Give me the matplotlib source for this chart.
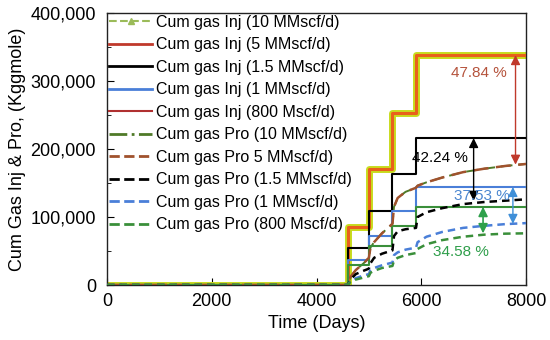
import matplotlib
matplotlib.use("Agg")
import matplotlib.pyplot as plt
from matplotlib.ticker import MultipleLocator, FuncFormatter
from matplotlib.lines import Line2D

plt.rcParams['font.family'] = ['Liberation Sans', 'DejaVu Sans']

# ---- data (days, Kggmole) ----
inj_t = [0, 4600, 5000, 5450, 5900, 8000]
inj_10mm = [0, 85000, 170000, 253000, 338000, 338000]
inj_5mm = [0, 85000, 170000, 253000, 338000, 338000]
inj_1p5mm = [0, 54000, 109000, 163000, 216000, 216000]
inj_1mm = [0, 37000, 72000, 109000, 144000, 144000]
inj_800 = [0, 29000, 58000, 87000, 115000, 115000]

pro_t = [0, 4600, 4650, 4750, 4900, 5000, 5030, 5100, 5250, 5450, 5480, 5550,
         5700, 5900, 5930, 6100, 6400, 6800, 7200, 7600, 8000]
pro_10mm = [0, 0, 12000, 22000, 32000, 40000, 55000, 63000, 76000, 90000, 115000, 128000,
            137000, 143000, 146000, 151000, 158000, 166000, 171000, 175000, 178000]
pro_5mm = [0, 0, 12000, 22000, 32000, 40000, 55000, 63000, 76000, 90000, 115000, 128000,
           137000, 143000, 146000, 151000, 158000, 166000, 171000, 175000, 178000]
pro_1p5mm = [0, 0, 8000, 16000, 21000, 24000, 32000, 40000, 46000, 51000, 72000, 79000,
             82000, 84000, 100000, 107000, 113000, 119000, 122000, 124000, 126000]
pro_1mm = [0, 0, 6000, 10000, 14000, 16000, 22000, 25000, 29000, 33000, 44000, 48000,
           52000, 55000, 63000, 71000, 78000, 84000, 87000, 89500, 91000]
pro_800 = [0, 0, 5000, 8000, 11000, 13000, 18000, 21000, 25000, 28000, 36000, 40000,
           44000, 47000, 53000, 60000, 66000, 71000, 74000, 75500, 76000]

labels = ['Cum gas Inj (10 MMscf/d)', 'Cum gas Inj (5 MMscf/d)', 'Cum gas Inj (1.5 MMscf/d)',
          'Cum gas Inj (1 MMscf/d)', 'Cum gas Inj (800 Mscf/d)', 'Cum gas Pro (10 MMscf/d)',
          'Cum gas Pro 5 MMscf/d)', 'Cum gas Pro (1.5 MMscf/d)', 'Cum gas Pro (1 MMscf/d)',
          'Cum gas Pro (800 Mscf/d)']

# difference markers
diff_x = [7800, 7000, 7750, 7180]
diff_top = [338000, 216000, 144000, 115000]
diff_bot = [177000, 124000, 90000, 76000]
diff_txt = ['47.84 %', '42.24 %', '37.53 %', '34.58 %']
diff_tx = [7100, 6350, 7150, 6750]
diff_ty = [312000, 187000, 131000, 48000]

fig = plt.figure(figsize=(5.5, 3.4), dpi=100)
ax = fig.add_axes([107/550, 1-285/340, (526-107)/550, (285-13)/340])

c_yel = '#c8dc1e'
c_org = '#e8601c'
c_blue = '#4a7fd8'
c_grn = '#3a8f3a'
c_brn = '#a0522d'
c_dgrn = '#4f7a28'

ax.plot(inj_t, inj_10mm, drawstyle='steps-post', color=c_yel, lw=5, zorder=2)
ax.plot(inj_t, inj_5mm, drawstyle='steps-post', color=c_org, lw=2.2, zorder=3)
ax.plot(inj_t, inj_1p5mm, drawstyle='steps-post', color='black', lw=1.5, zorder=3)
ax.plot(inj_t, inj_1mm, drawstyle='steps-post', color=c_blue, lw=1.5, zorder=3)
ax.plot(inj_t, inj_800, drawstyle='steps-post', color=c_grn, lw=1.5, zorder=3)
ax.plot(pro_t, pro_10mm, color=c_dgrn, lw=1.4, ls=(0, (6, 3)), zorder=2.5)
ax.plot(pro_t, pro_5mm, color=c_brn, lw=1.8, ls=(0, (6, 3)), zorder=3)
ax.plot(pro_t, pro_1p5mm, color='black', lw=1.8, ls=(0, (3, 2)), zorder=3)
ax.plot(pro_t, pro_1mm, color=c_blue, lw=1.8, ls=(0, (3, 2)), zorder=3)
ax.plot(pro_t, pro_800, color=c_grn, lw=1.8, ls=(0, (3, 2)), zorder=3)

handles = [
    Line2D([], [], color='#9bbb59', lw=1.5, ls='--', marker='^', markersize=5),
    Line2D([], [], color='#c0392b', lw=2),
    Line2D([], [], color='black', lw=2),
    Line2D([], [], color=c_blue, lw=2),
    Line2D([], [], color='#b03030', lw=1.5),
    Line2D([], [], color=c_dgrn, lw=2, ls='-.'),
    Line2D([], [], color=c_brn, lw=2, ls='--'),
    Line2D([], [], color='black', lw=2, ls='--'),
    Line2D([], [], color=c_blue, lw=2, ls='--'),
    Line2D([], [], color=c_grn, lw=2, ls='--'),
]
leg = ax.legend(handles, labels, loc='upper left', bbox_to_anchor=(-0.002, 1.005),
                frameon=False, fontsize=11.5, handlelength=2.7, handletextpad=0.2,
                labelspacing=0.47, borderaxespad=0.1, borderpad=0.1, numpoints=1)

colors_d = ['#c0392b', 'black', '#3f8fd8', '#2ea04a']
txt_c = ['#b5533c', 'black', '#4a86d0', '#2e9e4a']
lw_d = [1.0, 1.0, 1.0, 1.2]
for x, t, b, s, tx, ty, cc, tc, lw in zip(diff_x, diff_top, diff_bot, diff_txt, diff_tx,
                                         diff_ty, colors_d, txt_c, lw_d):
    ax.annotate('', xy=(x, b), xytext=(x, t),
                arrowprops=dict(arrowstyle='<|-|>', color=cc, lw=lw,
                                mutation_scale=14, shrinkA=0, shrinkB=0), zorder=5)
    ax.text(tx, ty, s, color=tc, fontsize=11, ha='center', va='center', zorder=6)

ax.set_xlim(0, 8000)
ax.set_ylim(0, 400000)
ax.xaxis.set_major_locator(MultipleLocator(2000))
ax.yaxis.set_major_locator(MultipleLocator(100000))
ax.yaxis.set_minor_locator(MultipleLocator(50000))
ax.yaxis.set_major_formatter(FuncFormatter(lambda v, p: f'{int(v):,}'))
ax.tick_params(axis='both', which='both', direction='in', labelsize=13)
ax.tick_params(axis='y', pad=8)
ax.tick_params(axis='x', pad=6)
ax.tick_params(which='major', length=5)
ax.tick_params(which='minor', length=3)
for sp in ax.spines.values():
    sp.set_color('#222222')
    sp.set_linewidth(1.0)

ax.set_xlabel('Time (Days)', fontsize=13, labelpad=3)
ax.set_ylabel('Cum Gas Inj & Pro, (Kggmole)', fontsize=13, labelpad=3)

fig.savefig('out.png', dpi=100)
